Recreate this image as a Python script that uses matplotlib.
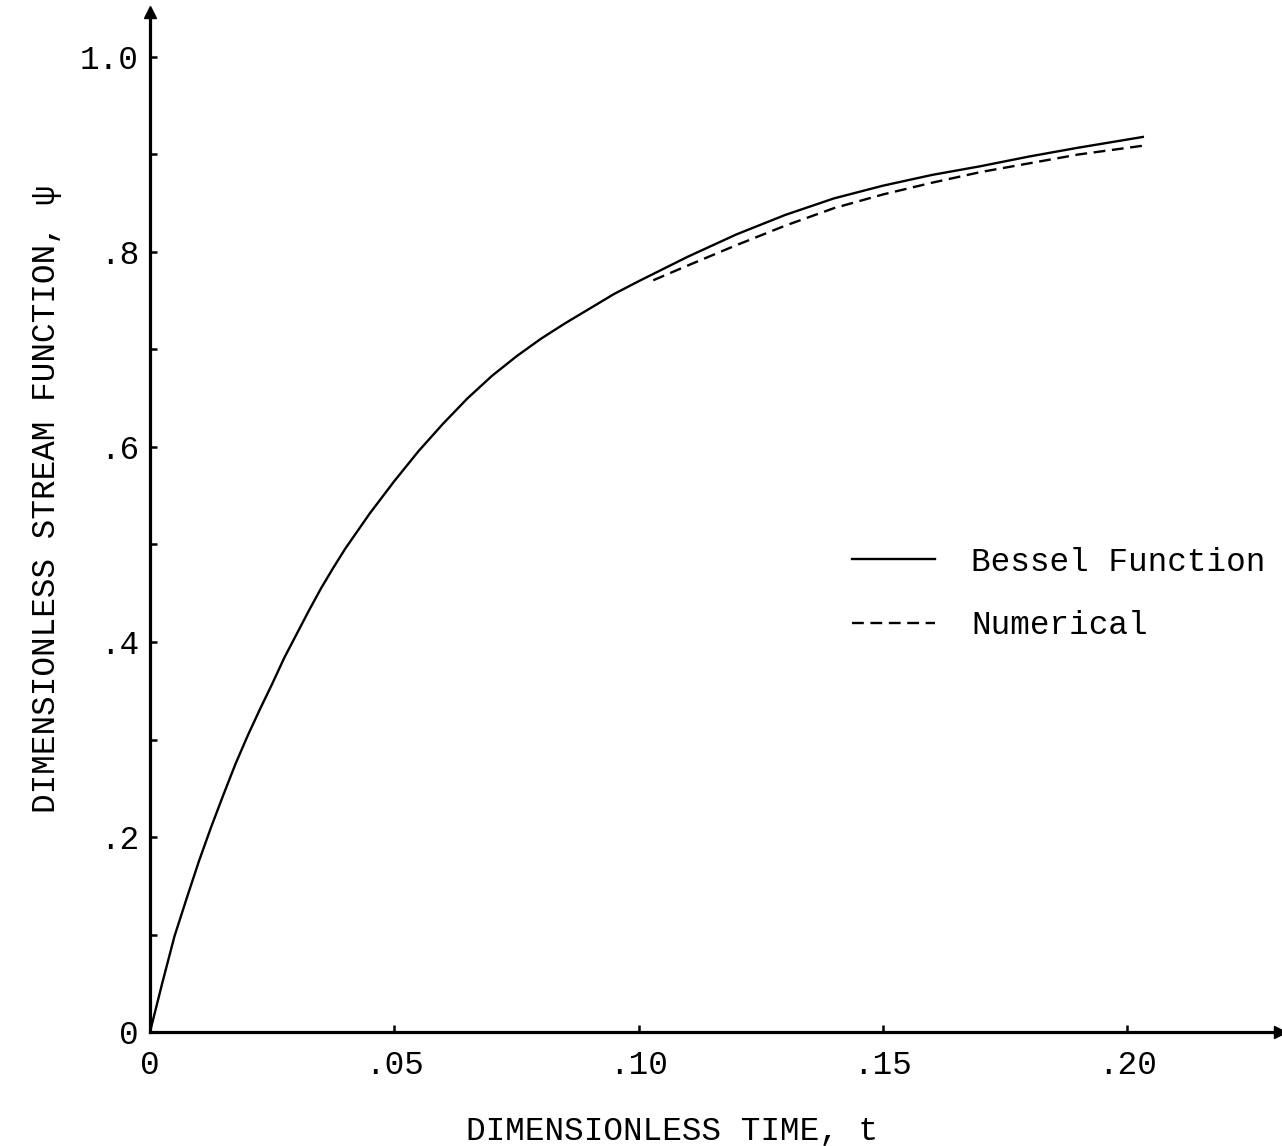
import matplotlib.pyplot as plt
import numpy as np

# Bessel function solution
t_bessel = [0, 0.0025, 0.005, 0.0075, 0.01, 0.0125, 0.015, 0.0175, 0.02,
            0.0225, 0.025, 0.0275, 0.03, 0.0325, 0.035, 0.0375, 0.04, 0.045,
            0.05, 0.055, 0.06, 0.065, 0.07, 0.075, 0.08, 0.085, 0.09, 0.095,
            0.10, 0.11, 0.12, 0.13, 0.14, 0.15, 0.16, 0.17, 0.18, 0.19, 0.2032]
psi_bessel = [0, 0.05, 0.098, 0.137, 0.175, 0.21, 0.243, 0.275, 0.304,
              0.331, 0.357, 0.384, 0.408, 0.432, 0.455, 0.476, 0.496, 0.532,
              0.565, 0.596, 0.624, 0.65, 0.673, 0.693, 0.711, 0.727, 0.742,
              0.757, 0.770, 0.795, 0.818, 0.838, 0.855, 0.868, 0.879, 0.888,
              0.898, 0.907, 0.918]

# numerical solution
t_num = [0.103, 0.11, 0.12, 0.13, 0.14, 0.15, 0.16, 0.17, 0.18, 0.19, 0.2032]
psi_num = [0.771, 0.786, 0.807, 0.827, 0.845, 0.859, 0.871, 0.882, 0.891,
           0.900, 0.909]

xticks = [0, 0.05, 0.10, 0.15, 0.20]
xtick_labels = ['0', '.05', '.10', '.15', '.20']
yticks = [0, 0.2, 0.4, 0.6, 0.8, 1.0]
ytick_labels = ['0', '.2', '.4', '.6', '.8', '1.0']

plt.rcParams['font.family'] = ['Liberation Mono', 'DejaVu Sans']

W, H = 1282, 1146
fig = plt.figure(figsize=(W / 100, H / 100), dpi=100)
x0, y0 = 150, 1032
x1, y1 = 1280, 12
ax = fig.add_axes([x0 / W, 1 - y0 / H, (x1 - x0) / W, (y0 - y1) / H])

xscale = 4886.0
yscale = 975.0
ax.set_xlim(0, (x1 - x0) / xscale)
ax.set_ylim(0, (y0 - y1) / yscale)

ax.plot(t_bessel, psi_bessel, 'k-', lw=1.7, solid_joinstyle='round',
        label='Bessel Function')
ax.plot(t_num, psi_num, 'k--', lw=1.7, dashes=(5, 2.8), label='Numerical')

for s in ['top', 'right']:
    ax.spines[s].set_visible(False)
for s in ['left', 'bottom']:
    ax.spines[s].set_linewidth(2.3)

# arrowheads on the axes
ax.plot(1, 0, '>k', ms=9, transform=ax.get_yaxis_transform(), clip_on=False)
ax.plot(0, 1, '^k', ms=9, transform=ax.get_xaxis_transform(), clip_on=False)

ax.set_xticks(xticks)
ax.set_xticklabels(xtick_labels)
ax.set_yticks(yticks)
ax.set_yticklabels(ytick_labels)
ax.set_yticks(np.arange(0.1, 1.0, 0.2), minor=True)
ax.tick_params(axis='both', which='both', direction='in', length=5, width=1.8,
               labelsize=23.5)
ax.tick_params(axis='x', pad=13)
ax.tick_params(axis='y', pad=8)

ax.set_xlabel('DIMENSIONLESS TIME, t', fontsize=23.5)
ax.xaxis.set_label_coords(0.462, -0.082)
ax.set_ylabel('DIMENSIONLESS STREAM FUNCTION, ψ', fontsize=23.5)
ax.yaxis.set_label_coords(-0.078, 0.523)

ax.legend(loc='center left', bbox_to_anchor=(852 / W, 1 - 594 / H),
          bbox_transform=fig.transFigure, frameon=False, fontsize=23.5,
          handlelength=2.55, handletextpad=1.1, labelspacing=1.0,
          borderpad=0, borderaxespad=0)

fig.savefig('out.png', dpi=100)
